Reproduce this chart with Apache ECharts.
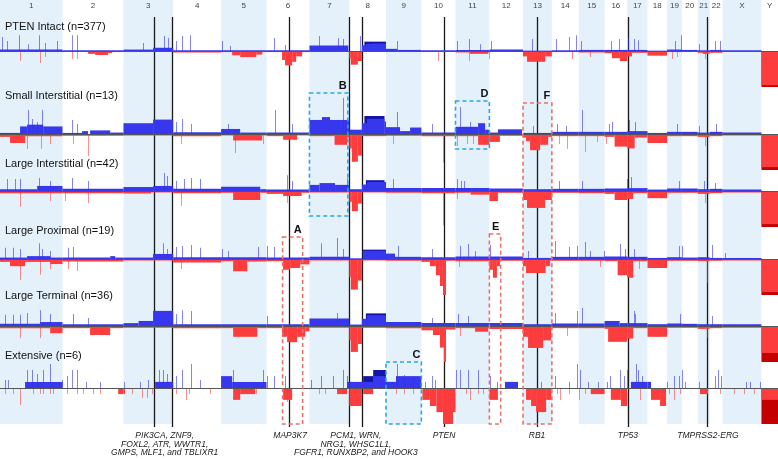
<!DOCTYPE html>
<html><head><meta charset="utf-8">
<script src="https://cdn.jsdelivr.net/npm/echarts@6/dist/echarts.min.js"></script>
<style>html,body{margin:0;padding:0;background:#fff}#c{width:778px;height:459px}</style>
</head><body><div id="c"></div>
<script>
// ---------------- DATA ----------------
const chromNames = ['1','2','3','4','5','6','7','8','9','10','11','12','13','14','15','16','17','18','19','20','21','22','X','Y'];
const chromLengths = [249,243,198,191,181,171,159,146,141,136,135,134,115,107,103,90,81,78,59,63,48,51,155,66]; // Mb
const trackNames = ['PTEN Intact (n=377)','Small Interstitial (n=13)','Large Interstitial (n=42)','Large Proximal (n=19)','Large Terminal (n=36)','Extensive (n=6)'];

// segments: [chromosome, startMb, endMb, % of samples]; spikes: [chromosome, Mb, %]
const intactGain = [[1,0,249,4],[2,0,243,2],[3,0,118,4],[3,118,198,9],[4,0,191,2],[5,0,181,2],[6,0,171,2],[7,0,155,15],[8,50,66,16],[8,66,90,20],[8,90,146,21],[9,0,45,6],[9,45,141,3],[10,0,136,2],[11,0,135,3],[12,0,134,4],[13,0,115,1],[14,0,107,2],[15,0,103,3],[16,0,90,3],[17,0,81,3],[18,0,78,1],[19,0,59,4],[20,0,63,3],[21,0,48,2],[22,0,51,3],[23,0,155,2]];
const intactLoss = [[1,0,249,3],[2,0,102,2],[2,102,130,8],[2,130,182,11],[2,182,198,6],[2,198,243,3],[3,0,198,3],[4,0,191,4],[5,0,44,3],[5,44,76,12],[5,76,140,17],[5,140,164,10],[5,164,181,3],[6,0,62,3],[6,62,74,25],[6,74,102,40],[6,102,118,30],[6,118,142,15],[6,142,171,3],[7,0,159,3],[8,0,6,20],[8,6,34,38],[8,34,50,28],[8,50,146,2],[9,0,141,2],[10,0,136,3],[11,0,58,4],[11,58,130,8],[11,130,135,4],[12,0,134,3],[13,0,16,15],[13,16,88,30],[13,88,115,15],[14,0,107,3],[15,0,103,4],[16,0,29,6],[16,29,61,20],[16,61,90,28],[17,0,19,15],[17,19,81,5],[18,0,78,13],[19,0,59,3],[20,0,63,2],[21,0,20,5],[21,20,48,8],[22,0,51,5],[23,0,155,2],[24,0,66,95]];
const intactGainSpikes = [[1,11,39],[1,28,28],[1,76,44],[1,112,19],[1,156,44],[1,180,22],[1,228,28],[2,38,44],[2,58,44],[3,78,22],[3,162,42],[3,178,36],[4,15,28],[4,39,42],[4,71,44],[5,4,28],[5,36,14],[6,30,36],[6,74,17],[7,42,42],[7,114,36],[7,134,33],[8,46,42],[9,44,28],[11,6,28],[11,54,33],[11,98,19],[12,10,28],[13,36,33],[14,20,33],[14,72,39],[14,100,44],[15,13,28],[16,29,28],[16,61,33],[17,7,36],[17,31,33],[17,47,30],[19,35,28],[19,58,44],[21,9,19],[22,21,28],[22,41,28]];
const intactLossSpikes = [[1,80,28],[1,160,33],[1,180,17],[2,38,22],[2,58,22],[10,70,28],[11,54,28],[12,2,22],[14,84,22],[15,45,17],[19,23,22],[19,43,17],[21,33,22]];

const smallGain = [[1,0,80,3],[1,80,108,21],[1,108,172,26],[1,172,249,21],[2,0,78,3],[2,78,102,8],[2,110,190,10],[2,190,243,4],[3,0,118,30],[3,118,198,40],[4,0,191,5],[5,0,76,14],[5,76,181,4],[6,0,171,4],[7,0,50,39],[7,50,82,47],[7,82,159,39],[8,0,50,12],[8,50,70,30],[8,70,140,42],[8,140,146,35],[9,0,56,19],[9,56,96,8],[9,96,141,18],[10,0,136,4],[11,0,90,20],[11,90,118,30],[11,118,135,12],[12,0,34,4],[12,34,130,13],[13,0,115,3],[14,0,107,6],[15,0,103,6],[16,0,90,6],[17,0,81,8],[18,0,78,3],[19,0,59,6],[20,0,63,6],[21,0,48,4],[22,0,51,6],[23,0,155,4]];
const smallLoss = [[1,0,40,8],[1,40,100,25],[1,100,249,6],[2,0,243,5],[3,0,198,4],[4,0,191,6],[5,0,48,4],[5,48,164,18],[5,164,181,4],[6,0,66,6],[6,66,122,16],[6,122,171,4],[7,0,100,6],[7,100,150,30],[7,150,159,10],[8,0,10,40],[8,10,34,77],[8,34,50,60],[8,50,146,6],[9,0,141,5],[10,0,136,6],[11,0,90,6],[11,90,135,30],[12,0,42,22],[12,42,134,5],[13,0,12,10],[13,12,28,20],[13,28,68,45],[13,68,100,30],[13,100,115,8],[14,0,107,6],[15,0,103,6],[16,0,40,8],[16,40,90,35],[17,0,30,40],[17,30,81,10],[18,0,78,25],[19,0,59,6],[20,0,63,6],[21,0,48,8],[22,0,51,6],[23,0,155,4],[24,0,66,92]];
const smallGainSpikes = [[1,112,67],[1,128,42],[1,148,33],[1,168,67],[2,38,39],[2,58,28],[4,15,33],[4,39,42],[4,75,28],[5,28,28],[6,34,67],[6,102,28],[7,134,100],[9,44,61],[10,46,28],[11,18,75],[11,58,33],[13,40,22],[14,24,28],[14,60,22],[15,17,67],[16,21,28],[16,33,33],[17,11,39],[17,35,33],[19,43,28],[21,9,22],[22,25,28]];
const smallLossSpikes = [[1,108,42],[1,164,42],[1,200,28],[2,42,28],[2,102,61],[4,35,28],[5,56,53],[5,168,28],[9,28,28],[10,90,80],[11,6,33],[11,46,28],[11,70,28],[14,32,28],[14,64,42],[15,25,50],[15,73,22],[16,9,28],[21,33,33]];

const largeIntGain = [[1,0,148,5],[1,148,249,14],[2,0,243,6],[3,0,118,11],[3,118,198,14],[4,0,191,6],[5,0,156,12],[5,156,181,5],[6,0,171,4],[7,0,40,17],[7,40,102,22],[7,102,159,17],[8,0,50,5],[8,50,70,18],[8,70,146,25],[9,0,141,8],[10,0,136,8],[11,0,135,8],[12,0,134,7],[13,0,115,5],[14,0,107,6],[15,0,103,6],[16,0,90,7],[17,0,81,8],[18,0,78,4],[19,0,59,7],[20,0,63,7],[21,0,48,5],[22,0,51,6],[23,0,155,4]];
const largeIntLoss = [[1,0,249,6],[2,0,243,6],[3,0,110,7],[3,110,198,4],[4,0,191,6],[5,0,48,5],[5,48,156,25],[5,156,181,5],[6,0,66,8],[6,66,140,14],[6,140,171,5],[7,0,159,4],[8,0,10,30],[8,10,34,56],[8,34,50,35],[8,50,146,4],[9,0,141,5],[10,0,136,6],[11,0,60,5],[11,60,135,10],[12,0,34,28],[12,34,134,5],[13,0,16,25],[13,16,88,47],[13,88,115,25],[14,0,107,5],[15,0,103,6],[16,0,40,8],[16,40,90,25],[17,0,24,22],[17,24,81,6],[18,0,78,20],[19,0,59,5],[20,0,63,5],[21,0,48,8],[22,0,51,6],[23,0,155,4],[24,0,66,92]];
const largeIntGainSpikes = [[1,28,33],[1,60,33],[1,80,33],[1,156,36],[1,200,28],[2,38,36],[2,102,28],[3,162,50],[3,174,42],[4,15,28],[4,47,33],[4,75,36],[4,107,33],[6,82,44],[6,102,28],[7,150,36],[9,28,33],[11,6,33],[11,22,28],[11,34,28],[14,32,28],[15,17,28],[17,3,33],[17,19,39],[19,51,28],[21,29,28],[22,21,22]];
const largeIntLossSpikes = [[1,80,44],[1,200,28],[2,10,28],[2,102,33],[4,35,42],[6,82,33],[10,90,95],[11,6,22],[21,33,33]];

const proximalGain = [[1,0,108,4],[1,108,200,8],[1,200,249,4],[2,0,190,4],[2,190,210,8],[2,210,243,4],[3,0,118,4],[3,118,198,14],[4,0,191,5],[5,0,181,5],[6,0,171,4],[7,0,159,6],[8,0,50,2],[8,54,146,23],[9,0,36,15],[9,36,141,6],[10,0,136,5],[11,0,135,7],[12,0,134,7],[13,0,115,3],[14,0,107,6],[15,0,103,6],[16,0,90,7],[17,0,81,6],[18,0,78,3],[19,0,59,5],[20,0,63,4],[21,0,48,5],[22,0,51,3],[23,0,155,3]];
const proximalLoss = [[1,0,40,8],[1,40,100,20],[1,100,200,8],[1,200,249,14],[2,0,243,7],[3,0,198,4],[4,0,191,10],[5,0,48,6],[5,48,104,34],[5,104,181,7],[6,0,66,6],[6,66,94,30],[6,94,134,25],[6,134,171,15],[7,0,159,4],[8,0,6,50],[8,6,34,85],[8,34,50,60],[8,50,146,4],[9,0,141,5],[10,0,34,8],[10,34,58,20],[10,58,74,45],[10,74,86,75],[10,86,98,100],[10,98,136,5],[11,0,135,6],[12,0,14,30],[12,14,30,52],[12,30,42,20],[12,42,134,5],[13,0,12,20],[13,12,90,39],[13,90,108,20],[13,108,115,5],[14,0,107,5],[15,0,103,5],[16,0,52,6],[16,52,90,45],[17,0,24,52],[17,24,81,6],[18,0,78,25],[19,0,59,5],[20,0,63,5],[21,0,48,6],[22,0,51,5],[23,0,155,4],[24,0,66,92]];
const proximalGainSpikes = [[1,20,31],[1,52,31],[1,80,28],[1,156,44],[1,168,28],[1,200,22],[2,22,31],[2,42,33],[3,158,44],[3,174,28],[4,15,33],[4,39,36],[4,75,39],[4,107,31],[5,4,28],[5,28,22],[5,148,33],[6,2,36],[6,30,33],[7,50,44],[7,110,58],[7,134,28],[9,48,36],[10,46,28],[11,18,36],[11,50,42],[11,78,22],[12,6,39],[13,20,22],[14,16,50],[14,72,33],[14,104,36],[15,25,47],[15,45,22],[16,1,22],[16,65,42],[16,85,28],[17,31,28],[19,51,36],[20,4,36],[22,13,39],[23,10,17]];
const proximalLossSpikes = [[1,80,58],[1,160,44],[1,200,28],[2,22,28],[2,58,33],[4,35,28],[11,14,22],[15,85,22],[17,51,28],[21,41,67]];

const terminalGain = [[1,0,160,6],[1,160,249,11],[2,0,243,5],[3,0,60,8],[3,60,118,14],[3,118,198,42],[4,0,191,5],[5,0,181,5],[6,0,171,5],[7,0,159,21],[8,0,50,4],[8,50,70,20],[8,70,146,30],[9,0,141,11],[10,0,136,8],[11,0,135,8],[12,0,134,8],[13,0,115,5],[14,0,107,7],[15,0,103,7],[16,0,60,14],[16,60,90,8],[17,0,81,8],[18,0,78,5],[19,0,59,7],[20,0,63,6],[21,0,48,5],[22,0,51,5],[23,0,155,5]];
const terminalLoss = [[1,0,200,6],[1,200,249,20],[2,0,110,6],[2,110,190,25],[2,190,243,6],[3,0,198,5],[4,0,191,6],[5,0,48,6],[5,48,144,30],[5,144,181,6],[6,0,62,6],[6,62,82,30],[6,82,122,45],[6,122,154,30],[6,154,171,15],[7,0,159,5],[8,0,6,40],[8,6,34,72],[8,34,50,50],[8,50,146,5],[9,0,141,6],[10,0,46,12],[10,46,74,25],[10,74,90,60],[10,90,98,100],[10,98,136,10],[11,0,78,6],[11,78,130,16],[11,130,135,6],[12,0,134,8],[13,0,20,30],[13,20,80,61],[13,80,112,40],[13,112,115,10],[14,0,107,6],[15,0,103,6],[16,0,14,8],[16,14,90,44],[17,0,24,35],[17,24,81,6],[18,0,78,30],[19,0,59,5],[20,0,63,5],[21,0,48,8],[22,0,51,6],[23,0,155,5],[24,0,66,75]];
const terminalGainSpikes = [[1,20,31],[1,52,31],[1,80,31],[1,108,36],[1,160,44],[1,200,33],[2,42,33],[2,102,22],[4,15,33],[4,39,44],[4,75,42],[6,2,28],[7,110,36],[10,46,22],[11,10,33],[11,50,28],[14,16,36],[14,104,42],[15,17,50],[17,31,42],[17,35,33],[19,55,33],[22,13,28]];
const terminalLossSpikes = [[1,80,33],[1,160,33],[11,18,28],[14,64,28],[21,41,33]];

const extensiveGain = [[1,100,249,17],[3,126,198,17],[5,0,44,33],[5,44,181,17],[7,150,159,17],[8,0,55,17],[8,55,95,17],[8,95,146,33],[9,0,40,17],[9,40,141,33],[12,62,114,17],[17,15,81,17],[18,0,14,17]];
const extensiveLoss = [[2,222,243,17],[3,0,6,17],[5,48,76,33],[5,76,136,17],[6,66,102,33],[7,110,150,17],[8,0,50,50],[8,55,95,17],[10,4,34,33],[10,34,60,50],[10,60,86,67],[10,86,126,100],[10,126,136,67],[12,0,34,33],[13,12,32,33],[13,32,52,50],[13,52,92,67],[13,92,112,33],[15,48,103,17],[16,25,65,33],[16,65,90,50],[18,14,50,33],[18,50,74,50],[21,9,41,17],[24,0,66,33]];
const extensiveGainSpikes = [[1,20,22],[1,32,22],[1,108,50],[1,128,50],[1,148,39],[1,172,50],[1,200,67],[1,248,22],[2,18,33],[2,38,50],[2,58,50],[2,94,17],[2,150,17],[3,6,17],[3,66,17],[3,98,22],[3,142,50],[3,158,50],[3,174,39],[4,15,33],[4,39,50],[4,75,67],[4,107,22],[5,48,50],[5,168,50],[6,2,33],[6,30,33],[6,74,33],[7,10,22],[7,50,33],[7,94,33],[7,134,50],[7,150,33],[9,44,67],[9,72,36],[9,108,33],[10,18,17],[10,46,33],[10,58,22],[11,2,50],[11,18,50],[11,50,50],[11,90,50],[12,6,33],[12,34,17],[13,72,17],[14,16,33],[14,72,17],[14,104,67],[15,9,50],[15,37,17],[15,77,17],[16,13,17],[16,25,33],[16,65,50],[16,81,33],[17,3,50],[17,39,67],[17,47,50],[17,63,33],[19,3,17],[19,31,33],[19,51,33],[20,4,50],[20,16,17],[21,9,17],[22,21,33],[22,33,50],[22,45,33],[23,94,17],[23,110,17],[23,150,17]];
const extensiveLossSpikes = [[1,20,17],[1,52,17],[1,80,47],[1,132,17],[1,160,17],[1,172,17],[1,200,17],[1,212,17],[2,18,17],[2,58,17],[2,82,17],[2,122,17],[2,150,17],[3,34,17],[3,74,28],[3,94,28],[3,114,17],[4,15,17],[4,55,33],[4,67,17],[4,147,17],[5,116,17],[5,140,17],[6,82,39],[7,42,17],[7,62,17],[9,40,17],[9,72,17],[9,108,17],[11,42,17],[11,58,33],[11,90,17],[11,110,17],[14,24,17],[14,36,33],[14,72,17],[15,5,33],[15,25,17],[17,55,33],[19,11,17],[19,31,33],[19,55,17],[22,41,17],[23,49,17],[23,89,17],[23,129,17]];

// high-level events (amplification / homozygous deletion): [track, chromosome, startMb, endMb, total %]
const gainDark = [[0,8,60,146,26],[1,8,60,140,50],[2,8,66,140,30],[3,8,54,146,26],[4,8,66,146,35],[5,8,55,95,33],[5,8,95,146,50]];
const lossDark = [[0,24,0,66,100],[1,24,0,66,100],[2,24,0,66,100],[3,24,0,66,100],[4,24,0,66,100],[5,24,0,66,100]];

// marked genes: [chromosome, Mb]
const geneMarks = [[3,122],[3,195],[6,90],[7,156],[8,50],[10,90],[13,56],[17,4],[21,38]];
const geneLabelTexts = ['PIK3CA, ZNF9,\nFOXL2, ATR, WWTR1,\nGMPS, MLF1, and TBLIXR1','MAP3K7','PCM1, WRN,\nNRG1, WHSC1L1,\nFGFR1, RUNXBP2, and HOOK3','PTEN','RB1','TP53','TMPRSS2-ERG'];
const geneLabelPos = [[3,164],[6,94],[8,26],[10,90],[13,56],[17,3],[21,41]];

// highlighted regions: letter, [chr, startMb], [chr, endMb]
const boxLetters = ['A','B','C','D','E','F'];
const boxFrom = [[6,64],[7,0],[9,0],[11,0],[12,0],[13,0]];
const boxTo = [[6,144],[7,153],[9,141],[11,135],[12,45],[13,115]];

// ---------------- LAYOUT / STYLE ----------------
const L = {
  baselines:[51,134,191,259,326,388], half:36,
  labelY:[28,97,165,232,297,357],
  shadeBottom:424, lineTop:17, lineBottom:427, chromLabelY:6, geneLabelTop:432,
  boxTop:[237,93,362,101,234,103], boxBottom:[424,216,424,149,424,424],
  boxKind:['red','cyan','cyan','cyan','red','red']
};
const C = {blue:'#3737ee', darkBlue:'#1414a8', red:'#fd3d3d', darkRed:'#c40000',
  blueSpike:'rgba(50,50,235,0.6)', redSpike:'rgba(245,55,55,0.55)',
  shade:'#e4f1fb', cyan:'#2ba7df', boxRed:'#e8716f', line:'#1a1a1a', base:'#555'};
const FONT = '"Liberation Sans", Arial, Helvetica, sans-serif';

const tracks = [
  [intactGain,intactLoss,intactGainSpikes,intactLossSpikes],
  [smallGain,smallLoss,smallGainSpikes,smallLossSpikes],
  [largeIntGain,largeIntLoss,largeIntGainSpikes,largeIntLossSpikes],
  [proximalGain,proximalLoss,proximalGainSpikes,proximalLossSpikes],
  [terminalGain,terminalLoss,terminalGainSpikes,terminalLossSpikes],
  [extensiveGain,extensiveLoss,extensiveGainSpikes,extensiveLossSpikes]
];

// ---------------- BUILD ----------------
const chromStart = []; let acc = 0;
chromLengths.forEach(l => { chromStart.push(acc); acc += l; });
const TOTAL = acc;
const g = (c, mb) => chromStart[c-1] + mb;

const grids = [{left:0,right:0,top:0,bottom:0}];
const xAxes = [{type:'value',gridIndex:0,min:0,max:TOTAL,show:false}];
const yAxes = [{type:'value',gridIndex:0,min:0,max:459,inverse:true,show:false}];
L.baselines.forEach((b,i) => {
  grids.push({left:0,right:0,top:b-L.half,height:2*L.half});
  xAxes.push({type:'value',gridIndex:i+1,min:0,max:TOTAL,show:false});
  yAxes.push({type:'value',gridIndex:i+1,min:-100,max:100,show:false});
});

const series = [];
// shading of odd chromosomes
series.push({type:'custom',xAxisIndex:0,yAxisIndex:0,z:0,silent:true,clip:false,
  data: chromNames.map((n,i)=>[chromStart[i], chromStart[i]+chromLengths[i], i]).filter(d=>d[2]%2===0),
  renderItem:(p,api)=>{const a=api.coord([api.value(0),0]), b=api.coord([api.value(1),L.shadeBottom]);
    return {type:'rect',shape:{x:a[0],y:a[1],width:b[0]-a[0],height:b[1]-a[1]},style:{fill:C.shade}};}});
// chromosome labels
series.push({type:'custom',xAxisIndex:0,yAxisIndex:0,z:5,silent:true,clip:false,
  data: chromNames.map((n,i)=>[chromStart[i]+chromLengths[i]/2, i]),
  renderItem:(p,api)=>{const a=api.coord([api.value(0),L.chromLabelY]);
    return {type:'text',x:a[0],y:a[1],style:{text:chromNames[p.dataIndex],fill:'#444',font:'8px '+FONT,align:'center',verticalAlign:'middle'}};}});
// gene lines
series.push({type:'custom',xAxisIndex:0,yAxisIndex:0,z:1,silent:true,clip:false,
  data: geneMarks.map(m=>[g(m[0],m[1])]),
  renderItem:(p,api)=>{const a=api.coord([api.value(0),L.lineTop]), b=api.coord([api.value(0),L.lineBottom]);
    const x=Math.round(a[0])+0.5;
    return {type:'line',shape:{x1:x,y1:a[1],x2:x,y2:b[1]},style:{stroke:C.line,lineWidth:1.3}};}});
// gene labels
series.push({type:'custom',xAxisIndex:0,yAxisIndex:0,z:5,silent:true,clip:false,
  data: geneLabelPos.map(m=>[g(m[0],m[1])]),
  renderItem:(p,api)=>{const a=api.coord([api.value(0),L.geneLabelTop]);
    return {type:'text',x:a[0],y:a[1],style:{text:geneLabelTexts[p.dataIndex],fill:'#1a1a1a',font:'italic 8.5px '+FONT,lineHeight:8.2,align:'center',verticalAlign:'top'}};}});

// tracks
function segSeries(ti, segs, sign, color, z){
  return {type:'custom',xAxisIndex:ti+1,yAxisIndex:ti+1,z,silent:true,clip:false,
    data: segs.map(s=>[g(s[0],s[1]), g(s[0],s[2]), sign*s[3]]),
    renderItem:(p,api)=>{const a=api.coord([api.value(0),0]), b=api.coord([api.value(1),api.value(2)]);
      return {type:'rect',shape:{x:a[0],y:Math.min(a[1],b[1]),width:Math.max(b[0]-a[0],1),height:Math.abs(b[1]-a[1])},style:{fill:color}};}};
}
function spikeSeries(ti, spikes, sign, color){
  return {type:'custom',xAxisIndex:ti+1,yAxisIndex:ti+1,z:2,silent:true,clip:false,
    data: spikes.map(s=>[g(s[0],s[1]), sign*s[2]]),
    renderItem:(p,api)=>{const a=api.coord([api.value(0),0]), b=api.coord([api.value(0),api.value(1)]);
      return {type:'rect',shape:{x:Math.floor(a[0]),y:Math.min(a[1],b[1]),width:1,height:Math.abs(b[1]-a[1])},style:{fill:color}};}};
}
tracks.forEach((t,ti)=>{
  const gd = gainDark.filter(d=>d[0]===ti).map(d=>d.slice(1));
  const ld = lossDark.filter(d=>d[0]===ti).map(d=>d.slice(1));
  series.push(segSeries(ti, gd, 1, C.darkBlue, 2));
  series.push(segSeries(ti, ld, -1, C.darkRed, 2));
  series.push(segSeries(ti, t[0], 1, C.blue, 2));
  series.push(segSeries(ti, t[1], -1, C.red, 2));
  series.push(spikeSeries(ti, t[2], 1, C.blueSpike));
  series.push(spikeSeries(ti, t[3], -1, C.redSpike));
  series.push({type:'custom',xAxisIndex:ti+1,yAxisIndex:ti+1,z:3,silent:true,clip:false,data:[[0,TOTAL]],
    renderItem:(p,api)=>{const a=api.coord([0,0]), b=api.coord([TOTAL,0]);
      const y=Math.round(a[1])+0.5;
      return {type:'line',shape:{x1:a[0],y1:y,x2:b[0],y2:y},style:{stroke:C.base,lineWidth:1}};}});
});

// highlight boxes
series.push({type:'custom',xAxisIndex:0,yAxisIndex:0,z:4,silent:true,clip:false,
  data: boxLetters.map((l,i)=>[g(boxFrom[i][0],boxFrom[i][1]), g(boxTo[i][0],boxTo[i][1])]),
  renderItem:(p,api)=>{const i=p.dataIndex;
    const a=api.coord([api.value(0),L.boxTop[i]]), b=api.coord([api.value(1),L.boxBottom[i]]);
    const col = L.boxKind[i]==='cyan'?C.cyan:C.boxRed;
    return {type:'group',children:[
      {type:'rect',shape:{x:a[0],y:a[1],width:b[0]-a[0],height:b[1]-a[1]},style:{fill:null,stroke:col,lineWidth:1.6,lineDash:[4,3]}},
      {type:'text',x:b[0]-5,y:a[1]-7,style:{text:boxLetters[i],fill:'#111',font:'bold 11px '+FONT,align:'center',verticalAlign:'middle'}}
    ]};}});

const graphic = trackNames.map((n,i)=>({type:'text',left:5,top:L.labelY[i]-7,z:10,silent:true,
  style:{text:n,fill:'#111',font:'11px '+FONT}}));

const chart = echarts.init(document.getElementById('c'), null, {renderer:'canvas'});
chart.setOption({animation:false, grid:grids, xAxis:xAxes, yAxis:yAxes, series, graphic});
</script>
</body></html>
